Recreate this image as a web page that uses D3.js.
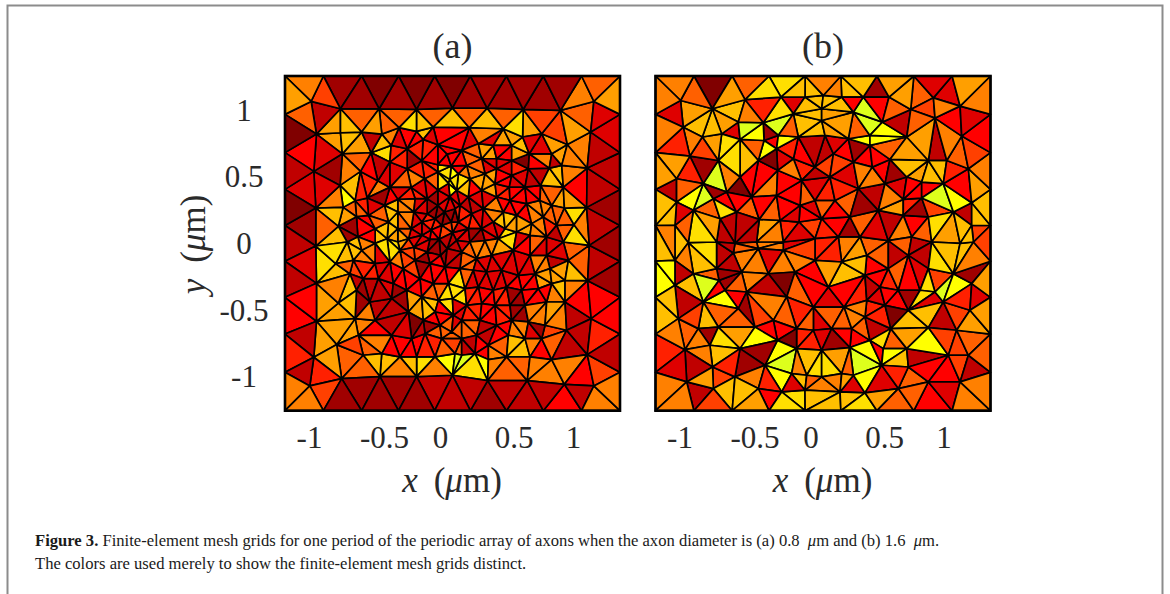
<!DOCTYPE html>
<html>
<head>
<meta charset="utf-8">
<title>Figure 3</title>
<script src="https://d3js.org/d3.v7.min.js"></script>
<style>
  html, body { margin: 0; padding: 0; background: #fff; }
  text { font-family: "Liberation Serif", serif; fill: #2a2a2a; }
  .caption { fill: #1a1a1a; font-size: 16.6px; }
</style>
</head>
<body>
<div id="chart"></div>
<script>
const width = 1170, height = 594;

// boundary nodes of the square cell, um (same on every side)
const edgeNodes = [-1.256, -.968, -.681, -.405, -.134, .134, .405, .681, .968, 1.256];

const titles = ["(a)", "(b)"];
const xLabels = ["-1", "-0.5", "0", "0.5", "1"];
const xLabelAt = [-1.076, -.514, -.094, .458, .904]; // the labels sit off the true positions in the figure
const yTicks = [1, .5, 0, -.5, -1];
const yLabels = ["1", "0.5", "0", "-0.5", "-1"];

// mesh nodes, panel a [x, y] um
const nodesA = [
  [-1.06,1.065],[-.84,1.01],[-.55,1.01],[-.27,1.005],[0,1.015],[.26,1.015],[.53,1.005],[.81,.998],[1.06,1.065],
  [-1.02,.82],[-1.04,.54],[-1.025,.265],[-1.025,-.02],[-1.02,-.3],[-1.02,-.585],[-1.04,-.855],[-1.07,-1.07],
  [1.036,.835],[1.01,.565],[1.006,.27],[1.026,-.015],[1.014,-.28],[1.04,-.565],[1.011,-.835],[1.06,-1.07],
  [-.831,-1.015],[-.544,-1],[-.269,-1],[0,-.99],[.264,-1.03],[.561,-1.03],[.839,-1.058],
  [-.84,.83],[-.681,.835],[-.401,.868],[-.27,.84],[-.144,.872],[.126,.868],[.381,.86],[.669,.822],[.861,.742],
  [-.826,.672],[-.843,.435],[-.73,.32],[-.856,.128],[.831,.422],[.839,.265],[.911,.14],[.831,.01],[.869,-.128],[.844,-.44],[.856,-.652],[.744,-.872],
  [-.61,.68],[-.53,.82],[-.46,.735],[-.34,.71],[-.22,.78],[-.47,.61],[-.34,.56],[-.23,.62],[-.11,.74],[-.04,.67],[-.11,.59],[-.01,.58],
  [-.69,.54],[-.56,.47],[-.47,.42],[-.41,.33],[-.31,.42],[-.21,.485],[-.11,.535],[-.02,.48],
  [-.64,.34],[-.51,.285],[-.82,.27],[-.72,.2],[-.63,.21],[-.58,.11],[-.48,.16],[-.41,.235],[-.28,.335],[-.19,.335],[-.11,.4],[-.03,.45],
  [-.29,.235],[-.19,.22],[-.11,.285],[-.02,.35],[-.41,.11],[-.31,.11],[-.23,.16],[-.13,.185],[-.06,.235],[.02,.26],
  [-.49,.035],[-.41,.01],[-.33,.035],[-.23,.06],[-.16,.1],[-.08,.135],[-.01,.16],[-.58,0],[-.71,.05],[-.79,.01],
  [-.1,.03],[-.04,-.04],[-.17,.03],[0,.08],
  [-.876,-.152],[-.856,-.448],[-.72,-.352],[-.73,-.565],[-.706,-.69],[-.669,-.84],[-.868,-.76],[-.581,-.578],[-.456,-.69],[-.531,-.828],
  [-.394,-.852],[-.269,-.852],[-.131,-.852],[.019,-.828],[-.331,-.515],[-.456,-.415],[-.62,-.44],[-.669,-.265],[-.556,-.265],[-.444,-.302],
  [-.306,-.715],[-.206,-.678],[-.081,-.715],[-.219,-.578],[-.094,-.615],[-.131,-.515],[.006,-.54],[-.006,-.665],
  [-.77,-.228],[-.744,-.128],[-.681,-.052],[-.581,-.152],[-.469,-.14],[-.369,-.19],[-.344,-.352],[-.231,-.402],[-.106,-.428],[0,-.415],
  [-.244,-.265],[-.144,-.302],[-.031,-.302],[-.281,-.128],[-.169,-.152],[-.056,-.178],[-.394,-.052],[-.29,-.03],[-.19,-.065],[-.09,-.09],
  [.194,.748],[.069,.698],[.306,.735],[.444,.735],[.526,.798],[.576,.672],[.444,.622],[.331,.635],[.219,.635],[.106,.585],[.744,.672],[.819,.585],[.726,.565],
  [.569,.56],[.444,.51],[.331,.56],[.244,.522],[.131,.485],[.044,.522],[.661,.435],[.544,.422],[.426,.422],[.319,.448],[.219,.398],[.119,.348],[.031,.398],
  [.656,.322],[.556,.298],[.431,.322],[.331,.348],[.231,.26],[.144,.222],[.056,.285],[.744,.285],[.681,.198],[.594,.148],[.481,.21],[.381,.235],[.306,.16],[.219,.11],[.119,.11],[.044,.16],
  [.781,.135],[.706,.048],[.581,.06],[.481,.085],[.394,.11],[.344,.035],[.244,.02],[.131,.01],[.031,.02],
  [.069,-.065],[.181,-.115],[.294,-.09],[.456,-.052],[.581,-.09],[.706,-.09],[.731,-.19],[.619,-.228],[.494,-.24],[.369,-.202],[.256,-.215],[.156,-.202],[.056,-.19],
  [.844,-.278],[.744,-.302],[.644,-.34],[.519,-.352],[.406,-.328],[.306,-.352],[.194,-.328],[.094,-.34],[.706,-.44],[.544,-.465],[.431,-.465],[.319,-.465],[.219,-.452],[.106,-.465],
  [.694,-.615],[.569,-.59],[.444,-.578],[.331,-.615],[.206,-.578],[.069,-.578],[.419,-.69],[.669,-.715],[.544,-.715],[.269,-.765],[.181,-.69],[.069,-.715],
  [.581,-.852],[.406,-.852],[.269,-.872],[.169,-.828],[.069,-.84]
];

// colour level per element, panel a [x, y, level], 0 dark red ... 4 red ... 12 yellow, 13 lime
const heatA = [
  [-1.095,1.19,8],[-1.19,1.096,9],[-.956,1.11,6],[-.83,1.17,1],[-.69,1.09,1],[-.546,1.17,0],[-.41,1.09,1],[-.27,1.17,0],[-.134,1.09,1],[0,1.17,0],[.13,1.09,1],[.27,1.17,1],[.4,1.09,1],[.54,1.17,1],[.67,1.09,1],[.82,1.17,1],[.946,1.1,8],[1.095,1.19,7],[1.19,1.096,9],
  [1.117,.957,3],[.97,.965,7],[1.18,.83,3],[1.1,.69,2],[1.17,.55,2],[1.09,.41,2],[1.17,.27,1],[1.095,.13,2],[1.18,-.01,1],[1.1,-.145,2],[1.17,-.28,1],[1.1,-.42,4],[1.18,-.56,4],[1.1,-.7,5],[1.17,-.83,2],[1.11,-.96,6],[1.19,-1.096,8],[1.095,-1.19,8],[.97,-.99,4],[.865,-.92,8],[.956,-1.13,2],[.83,-1.19,4],[.69,-1.11,2],[.55,-1.18,2],[.41,-1.1,2],[.27,-1.18,1],[.13,-1.09,2],[0,-1.17,2],
  [-1.11,.95,7],[-.97,.965,2],[-1.18,.82,0],[-1.1,.68,4],[-.96,.68,3],[-1.18,.54,2],[-1.1,.4,3],[-.97,.41,3],[-.9,.55,1],[-1.18,.27,0],[-1.1,.13,1],[-.97,.12,7],[-1.18,-.01,2],[-1.1,-.155,3],[-1.18,-.285,2],[-1.1,-.43,4],[-1.18,-.56,4],[-1.1,-.71,2],[-1.18,-.84,5],[-1.12,-.965,2],[-1.19,-1.096,8],[-1.095,-1.19,8],[-.956,-1.11,6],[-.98,-.98,5],[-.83,-1.17,1],[-.69,-1.09,1],[-.54,-1.17,1],[-.41,-1.08,1],[-.27,-1.17,1],[-.13,-1.08,2],
  [-.92,.9,9],[-.77,.91,10],[-.93,.77,9],[-.77,.76,10],[-.69,.96,7],[-.61,.885,9],[-.49,.92,7],[-.39,.96,7],[-.33,.91,11],[-.22,.91,10],[-.14,.95,7],[-.06,.92,10],
  [.12,.95,7],[.19,.91,10],[.31,.91,10],[.38,.95,7],[.47,.9,11],[.58,.9,9],[.68,.935,6],[.76,.87,6],[.92,.885,9],[.94,.735,8],[.74,.75,9],[.63,.75,3],[.51,.75,10],[.43,.77,9],[.31,.8,3],[.19,.81,8],[.13,.785,3],[.03,.785,4],
  [.79,.67,9],[.92,.62,8],[.88,.54,8],[.96,.44,4],[.88,.34,9],[.92,.235,11],[.98,.15,8],[.93,.05,11],[.86,.17,7],[.74,.49,10],[.73,.37,7],[.78,.32,9],[.62,.5,2],[.52,.62,0],[.66,.61,8],[.76,.61,2],[.59,.61,4],
  [-.68,.75,9],[-.59,.77,2],[-.52,.75,10],[-.47,.8,8],[-.39,.79,3],[-.33,.81,4],[-.51,.685,11],[-.72,.62,7],[-.77,.51,8],[-.74,.45,10],[-.79,.35,12],[-.92,.335,8],[-.92,.21,10],[-.96,.11,7],[-.92,.02,10],[-.81,.06,1],[-.82,.21,9],[-.73,.26,7],[-.63,.61,4],[-.53,.62,2],[-.61,.49,5],[-.61,.4,8],[-.67,.36,5],[-.56,.31,1],[-.46,.31,2],[-.39,.635,5],[-.31,.635,1],[-.22,.685,5],[-.46,.51,3],[-.37,.47,7],[-.29,.5,8],[-.21,.585,5],[-.11,.66,4],[-.13,.76,3],[-.06,.485,11],[-.13,.47,7],[-.21,.41,3],[-.29,.37,5],[-.38,.385,3],[-.47,.37,4],[-.43,.26,10],[-.56,.21,7],[-.51,.085,10],[-.66,.15,4],[-.59,.26,3],[-.33,.235,8],[-.26,.285,3],[-.16,.285,1],[-.07,.335,3],[-.41,.06,9],[-.26,.11,3],[-.16,.135,5],[-.07,.17,1],[-.33,.135,7],[-.05,.03,2],[-.13,.06,4],[-.02,.09,6],[-.12,-.03,1],
  [-.94,-.09,11],[-.94,-.23,10],[-.93,-.35,8],[-.79,-.365,10],[-.78,-.45,10],[-.94,-.515,9],[-.91,-.68,9],[-.89,-.9,9],[-.95,-.65,9],[-.72,-.82,6],[-.75,-.94,7],[-.6,-.93,10],[-.47,-.93,10],[-.39,-.94,8],[-.33,-.915,10],[-.22,-.93,11],[-.13,-.93,8],[-.06,-.9,12],[.01,-.915,13],[-.61,-.79,7],[-.52,-.75,8],[-.47,-.79,4],[-.38,-.78,4],[-.26,-.79,4],[-.17,-.8,5],[-.08,-.79,7],[0,-.78,6],[-.67,-.74,7],[-.77,-.75,6],[-.79,-.68,9],[-.66,-.64,8],[-.79,-.515,10],[-.67,-.53,8],[-.77,-.6,4],[-.53,-.65,4],[-.61,-.49,2],[-.52,-.5,2],[-.39,-.48,1],[-.31,-.57,0],[-.41,-.6,2],[-.26,-.68,2],[-.34,-.69,3],[-.18,-.615,1],[-.11,-.53,4],[-.08,-.665,7],[-.67,-.38,1],[-.56,-.4,2],[-.48,-.39,1],[-.67,-.29,2],[-.48,-.3,3],[-.36,-.28,4],[-.28,-.45,9],[-.18,-.465,10],[-.26,-.35,4],[-.13,-.365,7],[-.04,-.4,11],[-.81,-.13,7],[-.78,-.08,10],[-.68,-.1,8],[-.73,-.2,6],[-.66,-.19,5],[-.53,-.18,3],[-.43,-.1,8],[-.33,-.115,6],[-.47,-.03,11],[-.21,-.165,1],[-.11,-.23,4],[-.16,-.05,3],
  [.04,.45,11],[-.01,.46,12],[.11,.47,10],[.14,.56,8],[.07,.635,4],[.14,.685,7],[.26,.685,9],[.38,.685,4],[.46,.7,9],[.38,.56,3],[.49,.585,5],[.28,.585,3],[.21,.56,7],[.36,.47,4],[.48,.46,3],[.26,.46,9],[.17,.41,4],[.08,.335,3],[.36,.4,5],[.47,.37,4],[.58,.385,4],[.24,.335,3],[.16,.285,2],[.31,.26,8],[.41,.285,4],[.53,.235,4],[.64,.235,8],[.73,.21,7],[.23,.16,3],[.11,.185,5],[.39,.17,10],[.51,.135,9],[.62,.11,8],[.74,.11,5],[.42,.02,11],[.31,.085,3],[.16,.06,1],[.06,.085,3],[.54,.02,3],[.66,.035,7],[.78,.035,2],
  [.11,-.13,7],[.03,-.13,2],[.22,-.15,3],[.21,-.05,8],[.36,-.13,3],[.39,-.03,9],[.52,-.13,3],[.54,-.015,4],[.66,-.15,8],[.73,-.03,3],[.78,-.15,2],[.92,-.2,10],[.94,-.09,7],[.82,-.215,9],[.92,-.365,8],[.79,-.35,10],[.71,-.28,9],[.94,-.465,4],[.76,-.43,8],[.63,-.39,4],[.73,-.515,9],[.79,-.565,8],[.94,-.58,2],[.61,-.515,8],[.49,-.515,1],[.38,-.53,5],[.27,-.53,4],[.16,-.515,5],[.06,-.53,3],[.64,-.63,1],[.77,-.64,6],[.92,-.75,2],[.73,-.75,7],[.59,-.68,3],[.49,-.68,8],[.38,-.63,4],[.24,-.65,2],[.13,-.65,7],[.66,-.82,4],[.57,-.78,8],[.47,-.73,10],[.49,-.815,10],[.36,-.765,7],[.24,-.8,4],[.12,-.78,2],[.03,-.78,7],[.33,-.83,8],
  [.66,-.915,8],[.49,-.915,7],[.41,-.965,7],[.33,-.915,8],[.19,-.94,12],[.13,-.965,11],[.08,-.9,13],[.01,-.89,13],[.73,-.98,8]
];

// mesh nodes, panel b [x, y] um
const nodesB = [
  [-1.068,1.072],[-.83,1.01],[-.585,1.078],[-.315,1.098],[-.135,1.098],[-.222,.972],[-1.048,.872],[-.905,.798],[-.76,.822],[-.635,.91],[-.448,.905],[-.622,.78],[-.442,.772],[-.335,.81],[-.185,.798],[-.01,.922],
  [-.998,.655],[-.785,.622],[-.622,.498],[-.485,.622],[-.348,.71],[-.34,.548],[-.16,.472],[-.222,.635],[-.06,.572],[-1.098,.485],[-.898,.448],[-1.098,.31],[-.972,.248],[-.822,.335],[-.722,.385],[-.535,.348],[-.348,.36],[-.172,.285],[-.06,.322],
  [-.772,.185],[-.648,.235],[-.478,.18],[-.322,.172],[-.18,.16],[-1.11,.135],[-.798,.01],[-.66,0],[-1.01,.005],[-.498,.01],[-.298,.01],[-.06,.035],
  [.002,1.11],[.14,1.098],[.302,1.098],[.495,1.098],[.658,1.005],[.828,1.092],[1.028,1.03],[-.01,1.01],[.228,.985],[.445,.91],[.84,.94],[.628,.798],[1.04,.805],[.19,.785],[.015,.81],[.352,.81],[.502,.63],[.352,.735],[.79,.622],[.928,.622],[1.09,.56],
  [.078,.672],[.228,.61],[.37,.572],[.628,.498],[.465,.448],[.265,.41],[.052,.498],[.902,.448],[.74,.46],[.74,.34],[1.115,.305],[.978,.235],[.09,.322],[.415,.248],[.602,.33],[.79,.198],[.202,.198],[.602,.21],[-.01,.185],[1.115,.135],[.49,.02],[.278,.048],[.115,.048],[.665,.048],[.815,.01],[1.028,0],[1.128,.01],
  [-1.11,-.128],[-.972,-.228],[-.798,-.19],[-.672,-.072],[-.61,-.215],[-.485,-.04],[-.298,-.052],[-.41,-.228],[-.21,-.215],[-.06,-.128],[-1.11,-.315],[-.898,-.44],[-.78,-.278],[-.735,-.352],[-.635,-.49],[-.572,-.365],[-.272,-.402],[-.072,-.478],
  [-1.085,-.565],[-.935,-.64],[-.785,-.628],[-.51,-.628],[-.372,-.578],[-.198,-.64],[-.072,-.652],[-.342,-.728],[-.622,-.79],[-1.035,-.798],[-.848,-.765],[-.435,-.915],[-.198,-.79],[-.01,-.802],[-.828,-.928],[-.66,-1.002],[-1.022,-1.04],[-.485,-1.09],[-.31,-1.115],[-.822,-1.09],[-.235,-.978],[-.122,-.99],[-.01,-1.002],[-.135,-1.102],
  [.14,-.14],[.328,-.09],[.49,-.19],[.64,-.09],[.79,-.19],[.978,-.228],[1.115,-.302],[.315,-.24],[.04,-.328],[.158,-.478],[.328,-.428],[.428,-.328],[.565,-.352],[.64,-.502],[.728,-.352],[.84,-.365],[.902,-.44],[1.102,-.502],[.465,-.465],[.315,-.552],[.508,-.64],[.79,-.632],[1.002,-.652],[.065,-.64],[.215,-.64],[.352,-.728],
  [.452,-.79],[.628,-.79],[.202,-.782],[.94,-.84],[1.09,-.84],[.44,-.915],[.64,-.928],[.228,-.99],[.128,-1.115],[.315,-1.122],[.565,-1.09],[.79,-1.04],[1.028,-1.04],[.14,-.978]
];

// colour level per element, panel b [x, y, level]
const heatB = [
  [-1.12,1.17,8],[-1.185,1.085,8],[-.96,1.1,7],[-.82,1.16,0],[-.7,1.11,9],[-.57,1.2,7],[-.435,1.16,11],[-.25,1.17,10],[-.33,1.2,11],[-1.135,.985,3],[-.96,.985,9],[-.71,1.01,10],[-.47,1.01,5],[-.31,1.01,11],[-.235,1.05,3],[-.11,1.02,10],
  [-1.16,.86,8],[-.96,.87,10],[-.82,.885,10],[-.72,.95,9],[-.56,.97,8],[-.69,.85,3],[-.57,.86,13],[-.51,.82,12],[-.4,.85,1],[-.35,.91,13],[-.25,.86,7],[-.17,.885,10],[-.06,.9,10],[-.11,.82,10],
  [-1.12,.75,5],[-.97,.77,8],[-.83,.76,9],[-.735,.735,11],[-.57,.685,10],[-.51,.75,7],[-.42,.7,12],[-.4,.77,4],[-.285,.77,12],[-.25,.7,5],[-.16,.71,4],[-.07,.75,2],
  [-1.15,.585,9],[-.9,.685,6],[-1.01,.535,5],[-.9,.56,1],[-.82,.5,13],[-.71,.57,11],[-.71,.485,8],[-.535,.535,4],[-.41,.65,0],[-.3,.635,3],[-.435,.535,4],[-.4,.45,8],[-.26,.535,8],[-.135,.585,5],[-.05,.535,2],[-.26,.435,4],[-.1,.46,3],
  [-1.185,.37,2],[-1.185,.235,10],[-1.01,.41,7],[-1.01,.335,12],[-.9,.335,13],[-.835,.41,1],[-.77,.37,4],[-.71,.435,11],[-.635,.4,0],[-.535,.42,3],[-.45,.41,7],[-.77,.26,11],[-.65,.31,4],[-.46,.31,4],[-.42,.235,7],[-.26,.335,4],[-.135,.41,7],[-.11,.31,3],[-.87,.27,7],[-1.035,.25,3],[-1.05,.16,7],[-.9,.16,9],[-.7,.17,2],[-.57,.21,7],[-.56,.11,2],[-.37,.135,9],[-.235,.22,3],[-.26,.11,5],[-.11,.185,4],[-1.17,.06,8],[-1.06,.06,10],[-.95,.05,11],[-.85,.06,9],[-.75,.06,2],[-.61,.035,7],[-.385,.06,8],[-.2,.06,3],[-.085,.11,6],
  [.065,1.185,8],[.215,1.17,10],[.4,1.16,1],[.515,1.2,9],[.59,1.07,9],[.73,1.11,7],[.9,1.16,3],[1.09,1.16,9],[1.15,1.08,8],[1.14,.92,3],[.94,.95,4],[.93,1.05,8],[.75,1.01,6],[.08,1.05,10],[.215,1.06,4],[.34,1.02,13],[.4,1.035,4],[.54,1,7],[.1,.97,9],[.33,.91,13],[.25,.87,7],[.13,.87,9],[.04,.92,12],[.4,.85,1],[.515,.835,12],[.54,.92,2],[.73,.92,7],[.73,.82,9],[.915,.85,8],[1.15,.81,4],
  [.09,.82,9],[.29,.77,12],[.43,.71,12],[.55,.75,7],[.73,.72,12],[.85,.69,2],[.965,.71,7],[1.15,.685,6],[.08,.75,3],[.03,.735,2],[.25,.7,1],[.17,.7,4],[.37,.67,4],[.58,.685,10],[.69,.685,9],[.58,.585,8],[.69,.57,10],[.85,.55,10],[.99,.56,5],[1.18,.485,8],
  [.15,.61,6],[.015,.585,6],[.29,.535,8],[.43,.56,4],[.54,.535,1],[.72,.51,9],[.165,.485,3],[.35,.485,8],[.54,.435,3],[1.03,.4,4],[1.165,.37,9],[1.18,.235,10],[.665,.41,4],[.75,.4,8],[.84,.41,4],[.89,.35,13],[1,.335,12],[.79,.285,12],[1.05,.22,2],[.15,.385,5],[.04,.42,5],[.35,.385,2],[.515,.35,8],[.015,.335,7],
  [.165,.27,7],[.315,.285,1],[.515,.285,9],[.69,.25,1],[.85,.26,6],[.65,.285,5],[.09,.17,4],[.19,.1,1],[.3,.16,7],[.4,.11,3],[.5,.16,2],[.59,.11,8],[.68,.15,4],[.74,.085,7],[.88,.135,11],[.98,.11,9],[1.065,.06,10],[1.05,.16,10],[1.165,.16,10],[1.15,.06,6],[.015,.11,5],[.35,.05,3],[.58,.035,7],[.23,.01,8],
  [-1.185,-.08,10],[-1.07,-.05,10],[-1.02,-.08,8],[-.935,-.05,11],[-.87,-.19,10],[-.735,-.14,2],[-.585,-.13,8],[-.41,-.13,3],[-.26,-.1,8],[-.11,-.15,6],[-1.185,-.265,12],[-1.05,-.215,2],[-1.035,-.315,10],[-.92,-.315,13],[-.87,-.25,7],[-.71,-.265,1],[-.785,-.315,12],[-.835,-.4,0],[-.77,-.38,4],[-.71,-.43,12],[-.635,-.3,7],[-.485,-.34,9],[-.35,-.315,0],[-.51,-.25,8],[-.21,-.3,7],[-.135,-.28,5],[-.035,-.28,4],
  [-1.17,-.48,10],[-1.185,-.63,8],[-1.01,-.44,2],[-1,-.565,6],[-.835,-.55,10],[-.82,-.48,12],[-.72,-.54,7],[-.56,-.415,2],[-.65,-.415,4],[-.47,-.48,2],[-.37,-.465,8],[-.4,-.35,2],[-.235,-.5,7],[-.16,-.48,5],[-.02,-.5,7],
  [-1.185,-.78,5],[-1.01,-.68,7],[-.92,-.73,8],[-.86,-.69,1],[-.72,-.7,11],[-.735,-.78,12],[-.61,-.68,9],[-.535,-.53,1],[-.45,-.54,6],[-.435,-.65,4],[-.31,-.64,4],[-.26,-.69,0],[-.135,-.58,7],[-.15,-.715,5],[-.02,-.7,3],[-.435,-.715,12],[-.285,-.78,12],[-.4,-.78,4],[-.55,-.74,7],
  [-1.16,-.9,3],[-.935,-.89,2],[-.95,-.84,8],[-.75,-.85,10],[-.735,-.94,5],[-.52,-.865,13],[-.56,-.915,1],[-.4,-.84,1],[-.335,-.9,13],[-.3,-1,12],[-.385,-1.03,5],[-.55,-1.03,8],[-.735,-1.03,6],[-.92,-1,9],[-.2,-.88,8],[-.11,-.83,10],[-.06,-.9,11],[-.17,-.98,10],
  [-1.185,-1.13,8],[-1.05,-1.15,8],[-.92,-1.1,2],[-.82,-1.18,6],[-.66,-1.13,10],[-.56,-1.18,9],[-.4,-1.18,4],[-.22,-1.18,11],[-.235,-1.05,3],[-.085,-1.05,7],[-.06,-1.18,10],
  [.05,-.03,5],[.23,-.05,9],[.4,-.04,7],[.55,-.05,2],[.73,-.05,2],[.865,-.05,10],[.965,-.04,10],[1.05,-.05,10],[1.18,-.08,8],[.05,-.23,9],[.2,-.215,10],[.39,-.19,4],[.565,-.165,7],[.73,-.14,3],[.88,-.19,11],[1.065,-.23,1],[1.18,-.27,9],[.28,-.3,1],[.365,-.315,2],[.48,-.265,5],[.64,-.3,4],[.78,-.28,11],[.88,-.29,6],[.9,-.33,13],[1,-.33,12],[1.18,-.39,3],[1.03,-.39,5],[.23,-.33,5],
  [.04,-.43,3],[.15,-.38,4],[.08,-.52,7],[.24,-.44,4],[.25,-.5,8],[.39,-.43,3],[.54,-.44,4],[.39,-.52,5],[.54,-.54,0],[.65,-.39,1],[.7,-.45,11],[.8,-.4,3],[.84,-.515,10],[.7,-.55,9],[.89,-.57,2],[.68,-.59,10],[1,-.53,6],[1.09,-.6,9],[1.18,-.58,9],
  [.015,-.58,3],[.14,-.58,7],[.28,-.65,7],[.4,-.6,2],[.58,-.68,10],[.7,-.68,9],[.73,-.74,12],[.865,-.73,9],[.89,-.7,6],[1.03,-.78,6],[1.14,-.75,7],[.04,-.73,1],[.15,-.72,4],[.28,-.73,4],[.28,-.78,12],[.44,-.715,11],[.54,-.74,7],[.39,-.79,4],[.4,-.84,0],[.515,-.815,12],[.69,-.85,2],[.55,-.88,10],
  [.05,-.89,11],[.13,-.84,9],[.24,-.865,7],[.34,-.915,13],[.84,-.88,8],[1,-.9,6],[1.115,-.94,2],[.715,-.95,7],[.85,-.965,4],[.98,-.965,4],[.54,-.965,5],[.35,-1.03,3],[.315,-1.015,12],[.43,-1.03,3],[.68,-1.03,7],[.13,-1.04,9],[.05,-1.05,8],[.24,-1.05,3],
  [.05,-1.18,10],[.265,-1.2,11],[.19,-1.18,10],[.43,-1.18,9],[.55,-1.18,7],[.83,-1.15,4],[.715,-1.18,7],[.89,-1.1,3],[1.1,-1.15,8],[1.18,-1.1,8]
];

const svg = d3.select("#chart").append("svg")
  .attr("width", width)
  .attr("height", height)
  .style("display", "block");

// grey page frame of the journal screenshot
svg.append("path")
  .attr("d", "M7.5,594V5.5H1162.5V594")
  .attr("fill", "none")
  .attr("stroke", "#8c8c8c")
  .attr("stroke-width", 2);

const heatColor = d3.scaleLinear()
  .domain([0, 4, 12, 13])
  .range(["#800000", "#ff0000", "#ffff00", "#ddff1c"]);

const y = d3.scaleLinear().domain([-1.256, 1.256]).range([410.7, 76]);

function drawPanel(left, nodes, heat, title, showY) {
  const x = d3.scaleLinear().domain([-1.256, 1.256]).range([left, left + 335]);
  const g = svg.append("g");

  // add the boundary nodes, then let delaunay rebuild the elements
  const all = nodes.slice();
  edgeNodes.forEach(function(v) {
    all.push([v, 1.256], [v, -1.256]);
    if (Math.abs(v) < 1.256) all.push([1.256, v], [-1.256, v]);
  });
  const mesh = d3.Delaunay.from(all);
  const seeds = d3.Delaunay.from(heat);
  const line = d3.line().x(d => x(d[0])).y(d => y(d[1])).curve(d3.curveLinearClosed);

  const tris = [];
  for (let i = 0; i < mesh.triangles.length; i += 3) {
    const pts = [all[mesh.triangles[i]], all[mesh.triangles[i + 1]], all[mesh.triangles[i + 2]]];
    const cx = d3.mean(pts, p => p[0]), cy = d3.mean(pts, p => p[1]);
    tris.push({ pts: pts, level: heat[seeds.find(cx, cy)][2] });
  }

  g.selectAll("path.cell")
    .data(tris)
    .enter().append("path")
    .attr("class", "cell")
    .attr("d", d => line(d.pts))
    .attr("fill", d => heatColor(d.level))
    .attr("stroke", "#000")
    .attr("stroke-width", 1.7)
    .attr("stroke-linejoin", "round");

  g.append("rect")
    .attr("x", left).attr("y", 76)
    .attr("width", 335).attr("height", 334.7)
    .attr("fill", "none")
    .attr("stroke", "#000")
    .attr("stroke-width", 2.6);

  // x tick labels
  const xAxis = d3.axisBottom(x)
    .tickValues(xLabelAt)
    .tickFormat((d, i) => xLabels[i])
    .tickSize(0);
  const ax = g.append("g").attr("transform", "translate(0,423)").call(xAxis);
  ax.select(".domain").remove();
  ax.selectAll("text").attr("font-size", 31).attr("font-family", null).attr("dy", "0.71em");

  g.append("text")
    .attr("x", x(0)).attr("y", 58)
    .attr("text-anchor", "middle")
    .attr("font-size", 36)
    .text(title);

  // x (um) label
  const xt = g.append("text")
    .attr("x", x(0) - .5).attr("y", 492)
    .attr("text-anchor", "middle")
    .attr("font-size", 35);
  xt.append("tspan").attr("font-style", "italic").text("x");
  xt.append("tspan").attr("dx", 16).text("(");
  xt.append("tspan").attr("font-style", "italic").text("\u03bc");
  xt.append("tspan").text("m)");

  if (showY) {
    const yAxis = d3.axisLeft(y)
      .tickValues(yTicks)
      .tickFormat((d, i) => yLabels[i])
      .tickSize(0);
    const ay = g.append("g").attr("transform", "translate(244,0)").call(yAxis);
    ay.select(".domain").remove();
    ay.selectAll("text")
      .attr("font-size", 31)
      .attr("font-family", null)
      .attr("text-anchor", "middle")
      .attr("x", 0)
      .attr("dy", "0.33em");

    const yt = g.append("text")
      .attr("transform", "translate(205,244.5) rotate(-90)")
      .attr("text-anchor", "middle")
      .attr("font-size", 35);
    yt.append("tspan").attr("font-style", "italic").text("y");
    yt.append("tspan").attr("dx", 16).text("(");
    yt.append("tspan").attr("font-style", "italic").text("\u03bc");
    yt.append("tspan").text("m)");
  }
}

drawPanel(285, nodesA, heatA, titles[0], true);
drawPanel(655.5, nodesB, heatB, titles[1], false);

// caption
const cap1 = svg.append("text").attr("class", "caption").attr("x", 35).attr("y", 546);
cap1.append("tspan").attr("font-weight", "bold").text("Figure 3.");
cap1.append("tspan").text(" Finite-element mesh grids for one period of the periodic array of axons when the axon diameter is (a) 0.8 ");
cap1.append("tspan").attr("font-style", "italic").attr("dx", 4).text("\u03bc");
cap1.append("tspan").text("m and (b) 1.6 ");
cap1.append("tspan").attr("font-style", "italic").attr("dx", 4).text("\u03bc");
cap1.append("tspan").text("m.");

svg.append("text").attr("class", "caption").attr("x", 35).attr("y", 569)
  .text("The colors are used merely to show the finite-element mesh grids distinct.");
</script>
</body>
</html>
